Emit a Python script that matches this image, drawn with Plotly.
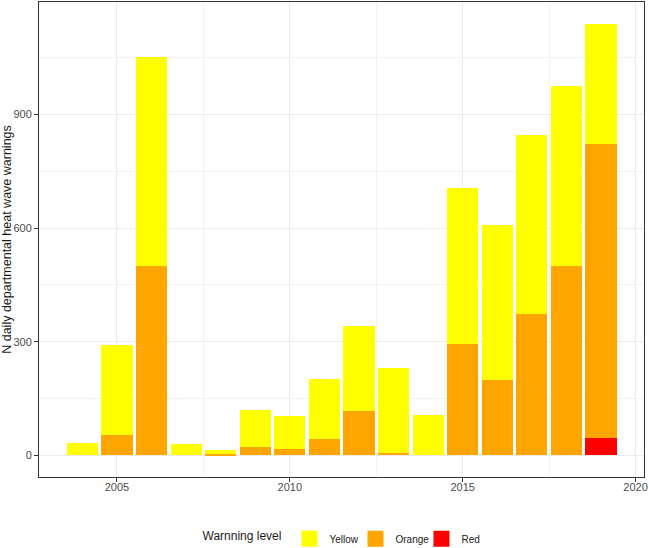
import plotly.graph_objects as go

years = list(range(2004, 2020))
yellow = [33, 239, 551, 29, 9, 100, 88, 158, 224, 225, 107, 413, 409, 474, 476, 318]
orange = [0, 53, 500, 0, 4, 21, 16, 43, 118, 7, 0, 293, 199, 373, 500, 775]
red = [0, 0, 0, 0, 0, 0, 0, 0, 0, 0, 0, 0, 0, 0, 0, 47]

levels = ["Red", "Orange", "Yellow"]
colors = {"Red": "#ff0000", "Orange": "#ffa500", "Yellow": "#ffff00"}
series = {"Red": red, "Orange": orange, "Yellow": yellow}

fig = go.Figure()
for lv in levels:
    fig.add_trace(go.Bar(x=years, y=series[lv], name=lv, marker_color=colors[lv],
                         width=0.9, marker_line_width=0, showlegend=False))
# legend keys (bigger squares like ggplot)
for lv in levels:
    fig.add_trace(go.Scatter(x=[None], y=[None], mode="markers", name=lv,
                             marker=dict(symbol="square", size=17, color=colors[lv])))

tickfont = dict(family="Liberation Sans, Arial", size=11, color="#4d4d4d")

fig.update_layout(
    width=649,
    height=548,
    barmode="stack",
    plot_bgcolor="white",
    paper_bgcolor="white",
    margin=dict(l=39, r=5, t=2, b=71, autoexpand=False),
    font=dict(family="Liberation Sans, Arial", color="#1a1a1a"),
    xaxis=dict(
        range=[2002.745, 2020.245],
        tick0=2005, dtick=5,
        showgrid=True, gridcolor="#ebebeb", gridwidth=1,
        minor=dict(dtick=2.5, tick0=2002.5, showgrid=True, gridcolor="#f2f2f2", gridwidth=0.6),
        ticks="outside", ticklen=4, tickcolor="#333333",
        showline=True, mirror=True, linecolor="#333333", linewidth=1,
        zeroline=False, tickfont=tickfont, automargin=False,
        ticklabelstandoff=-4,
    ),
    yaxis=dict(
        range=[-57, 1197],
        tick0=0, dtick=300,
        showgrid=True, gridcolor="#ebebeb", gridwidth=1,
        minor=dict(dtick=150, showgrid=True, gridcolor="#f2f2f2", gridwidth=0.6),
        ticks="outside", ticklen=4, tickcolor="#333333",
        showline=True, mirror=True, linecolor="#333333", linewidth=1,
        zeroline=False, tickfont=tickfont, automargin=False,
        title=dict(text="N daily departmental heat wave warnings", font=dict(size=12.5, color="#1a1a1a"), standoff=6),
    ),
    legend=dict(
        orientation="h",
        x=0.267, xanchor="left",
        y=-0.13, yanchor="middle",
        traceorder="reversed",
        entrywidth=21,
        title=dict(text="Warnning level", font=dict(size=12, color="#1a1a1a")),
        font=dict(size=10, color="#1a1a1a"),
    ),
    bargap=0,
)

# page body has an 8px default margin; drop it so the figure sits at 0,0
fig.write_html("out.html", config={"displayModeBar": False},
               post_script="document.body.style.margin='0';")
